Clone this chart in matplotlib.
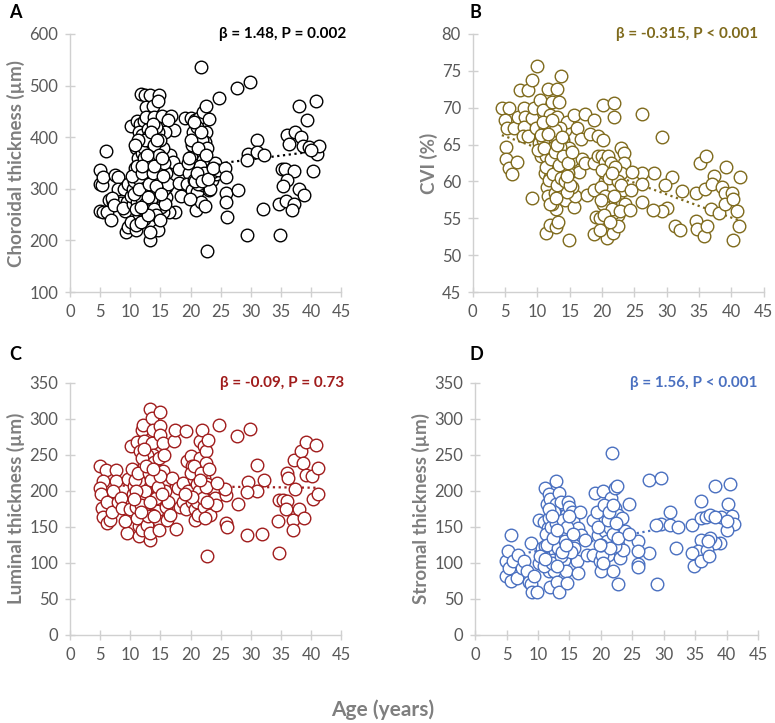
import numpy as np
import matplotlib.pyplot as plt

plt.rcParams['font.family'] = ['Lato', 'DejaVu Sans']

# ---- Panel A: choroidal thickness (um) vs age ----
age_a = [4.9, 5.0, 5.3, 5.5, 6.0, 5.0, 5.4, 6.2, 6.8, 6.5, 7.1, 7.5, 7.9, 8.0, 7.8, 8.4, 9.1, 9.4, 9.3, 9.7,
         6.9, 7.3, 8.8, 9.0, 9.6,
         10.2, 10.1, 10.5, 10.2, 10.9, 11.2, 11.6, 11.7, 12.4, 12.6, 12.3, 11.4, 11.6, 12.2, 12.2, 12.6, 10.4, 10.8,
         11.0, 11.3, 11.5, 11.8, 12.0, 12.5, 12.8, 10.6, 11.1, 11.9, 12.4, 12.7, 11.4, 12.0, 12.9, 10.9, 11.8, 12.3,
         12.6, 11.0, 12.1, 12.4,
         13.3, 13.8, 14.0, 14.8, 14.6, 15.3, 16.8, 17.3, 16.3, 15.8, 16.6, 17.1, 16.0, 15.9, 16.0, 17.5, 16.4, 15.5,
         14.6, 13.3, 13.2, 13.0, 13.5, 13.8, 14.2, 14.5, 14.9, 15.2, 13.2, 13.6, 14.0, 14.4, 14.8, 15.1, 13.4, 13.9,
         14.3, 15.0, 13.1, 14.6, 15.4, 15.0, 14.2, 13.7, 15.6, 15.6, 14.1, 13.0, 16.2, 15.8,
         18.1, 18.4, 18.1, 19.1, 20.0, 20.8, 21.4, 22.1, 22.5, 24.7, 23.0, 22.5, 22.4, 20.9, 21.6, 20.0, 20.5, 21.3,
         19.7, 19.4, 20.2, 21.1, 22.1, 20.9, 21.8, 22.4, 23.0, 23.6, 24.2, 23.5, 22.5, 22.0, 23.3, 20.4, 21.0, 21.9,
         20.6, 19.9, 21.5, 22.8, 24.0, 24.5, 20.3, 21.2, 21.8, 22.7,
         10.3, 10.7, 11.2, 11.5, 11.9, 12.2, 12.5, 12.9, 13.1, 13.4, 13.7, 14.0, 14.3, 14.7, 15.1, 15.4, 11.3, 11.7,
         12.8, 13.5, 14.5, 10.8, 12.0, 13.9, 15.2, 19.5, 20.1, 20.7, 21.3, 21.7, 22.2, 22.6, 20.5, 21.0, 21.9, 19.8,
         22.9, 23.8,
         25.7, 25.9, 25.9, 25.9, 26.0, 27.7, 29.8, 31.0, 29.6, 31.0, 32.2, 29.3, 27.9, 32.0, 29.3, 35.1, 35.6, 37.2,
         36.0, 36.3, 37.4, 38.4, 38.0, 39.3, 38.7, 39.7, 40.8, 40.3, 40.9, 41.3, 36.0, 35.3, 38.0, 38.9, 34.6, 35.9,
         37.2, 36.9, 34.9, 40.0]
choroidal = [337, 310, 307, 323, 373, 257, 255, 255, 239, 279, 274, 326, 323, 300, 272, 273, 258, 275, 217, 226,
             282, 268, 262, 300, 310,
             236, 421, 271, 287, 220, 431, 425, 484, 482, 458, 432, 252, 297, 298, 242, 258, 300, 340,
             380, 360, 410, 395, 370, 350, 330, 315, 275, 280, 270, 310, 320, 405, 415, 230, 235, 380,
             440, 260, 300, 302,
             481, 460, 439, 481, 471, 442, 441, 414, 433, 410, 365, 352, 330, 304, 284, 255, 255, 255,
             220, 201, 217, 400, 390, 370, 355, 345, 330, 315, 340, 320, 300, 290, 275, 265, 280, 260,
             250, 240, 365, 410, 380, 395, 420, 425, 350, 300, 320, 250, 310, 270,
             339, 287, 311, 437, 437, 433, 437, 449, 460, 476, 435, 410, 391, 381, 362, 362, 346, 330,
             330, 310, 297, 294, 307, 259, 275, 267, 297, 317, 329, 333, 342, 355, 299, 410, 420, 395,
             318, 280, 345, 380, 350, 336, 385, 310, 537, 179,
             325, 290, 345, 300, 330, 360, 395, 285, 310, 355, 330, 385, 305, 365, 290, 325, 395, 265,
             365, 410, 395, 385, 345, 345, 360, 350, 395, 315, 380, 410, 330, 365, 430, 330, 315, 360,
             320, 340,
             341, 323, 292, 274, 246, 495, 507, 394, 367, 371, 366, 355, 298, 261, 211, 339, 339, 335,
             404, 386, 411, 401, 460, 434, 383, 381, 471, 334, 367, 383, 317, 305, 300, 289, 270, 276,
             270, 259, 211, 375]

# ---- Panel B: CVI (%) vs age ----
age_b = [4.5, 5.6, 5.0, 5.3, 5.1, 5.1, 5.6, 6.0, 6.8, 6.4, 7.0, 7.3, 8.6, 9.1, 10.0, 8.0, 8.1, 7.9, 7.7, 9.1,
         9.4, 10.4, 9.1, 8.6, 9.8, 10.2, 10.6, 10.9, 11.2, 11.6, 12.2, 11.9, 13.1, 13.6, 13.3, 13.1, 11.6, 11.4,
         11.1, 11.5, 11.7, 11.4, 12.0, 12.8, 13.2, 12.9, 12.2, 12.7, 13.2, 13.7, 13.7, 14.0, 14.2, 14.5, 14.9,
         14.2, 15.6, 15.8, 15.4, 15.1, 15.4, 14.9, 15.6, 16.1, 16.7, 16.9, 16.5, 17.3, 17.4, 17.7, 18.2, 18.8,
         18.7, 18.8, 18.8, 19.4, 20.2, 20.2, 19.4, 19.0, 19.6, 20.0, 20.4, 20.9, 21.4, 20.4, 20.7, 20.9, 20.7,
         21.7, 21.9, 21.9, 22.0, 22.3, 22.5, 22.5, 22.4, 22.5, 23.0, 23.4, 23.4, 22.9, 23.3, 23.6, 21.0, 21.4,
         21.2, 21.7, 20.4, 19.9, 20.2, 19.6,
         12.5, 13.0, 13.5, 12.5, 12.8, 14.0, 14.5, 14.7, 11.9, 10.9, 10.1, 13.5, 12.7, 14.2,
         10.5, 11.0, 11.4, 11.8, 12.1, 12.4, 12.7, 13.0, 13.3, 13.6, 13.9, 14.3, 14.7, 15.0, 15.3, 10.8, 11.6,
         12.3, 13.1, 13.8, 14.6, 12.0, 12.9, 20.0, 20.5, 21.0, 21.5, 22.0, 22.5, 23.0, 20.3, 21.2, 21.8, 22.8,
         19.8, 21.5,
         26.1, 29.3, 30.8, 29.8, 30.0, 29.2, 27.8, 28.1, 31.2, 32.1, 32.3, 26.1, 26.1, 26.1, 24.6, 24.3, 24.4,
         34.5, 34.5, 34.6, 35.7, 36.2, 35.1, 36.0, 35.9, 37.3, 37.0, 36.9, 38.1, 38.5, 39.1, 39.0, 39.0, 40.1,
         40.3, 40.9, 41.1, 40.3, 41.4]
cvi = [69.9, 70.0, 68.4, 67.2, 64.7, 63.0, 61.8, 61.0, 62.6, 67.3, 68.7, 72.4, 72.4, 73.7, 75.7, 70.0, 68.7,
       67.4, 66.1, 68.6, 70.0, 71.0, 57.7, 66.1, 67.2, 65.2, 63.4, 69.7, 67.2, 72.6, 70.8, 69.0, 72.6, 74.3,
       70.8, 68.8, 65.2, 63.4, 61.1, 59.3, 58.0, 53.0, 54.1, 53.8, 54.5, 56.3, 57.0, 58.4, 60.2, 61.5, 63.8,
       65.6, 67.0, 68.1, 52.1, 57.5, 56.6, 58.0, 59.3, 61.3, 62.9, 64.5, 69.0, 67.2, 65.8, 63.1, 61.3, 69.2,
       62.5, 58.2, 66.5, 68.3, 62.5, 58.8, 52.9, 66.1, 65.6, 70.4, 63.4, 55.2, 55.0, 63.4, 62.7, 63.4, 62.5,
       60.0, 57.5, 56.1, 52.3, 53.0, 70.7, 68.8, 60.7, 59.3, 58.2, 57.0, 55.4, 53.9, 64.5, 63.8, 62.5, 61.1,
       58.8, 57.0, 58.4, 59.3, 57.0, 55.7, 61.1, 59.3, 57.0, 53.4,
       62.0, 63.4, 64.7, 64.7, 66.1, 59.8, 58.6, 61.1, 60.6, 65.6, 64.3, 67.2, 67.0, 62.9,
       66.3, 64.5, 62.0, 60.2, 63.0, 61.0, 64.0, 59.5, 62.3, 60.5, 63.5, 60.0, 62.5, 59.5, 64.0, 68.0, 66.5,
       68.3, 65.0, 66.0, 60.8, 57.0, 57.8, 61.5, 58.0, 60.5, 56.3, 62.0, 60.0, 59.5, 55.5, 54.5, 58.0, 56.0,
       57.5, 61.2,
       69.1, 66.0, 60.6, 59.5, 56.4, 56.0, 56.1, 61.1, 53.9, 53.4, 58.7, 61.1, 59.6, 57.2, 61.3, 56.1, 58.8,
       58.4, 54.7, 53.6, 52.6, 54.0, 62.5, 63.5, 59.0, 60.8, 59.6, 56.3, 55.7, 59.3, 62.0, 58.5, 57.0, 58.5,
       57.6, 56.0, 53.9, 52.0, 60.6]

# ---- Panel C: luminal thickness (um) vs age ----
age_c = [4.9, 6.0, 5.5, 5.0, 5.1, 5.3, 5.4, 6.2, 6.6, 6.2, 6.9, 7.6, 7.6, 7.2, 8.0, 8.4, 8.7, 9.4, 9.2, 9.7,
         10.0, 10.2, 10.5, 10.6, 11.1, 11.4, 11.5, 11.2, 11.0, 11.6, 11.9, 12.1, 12.2, 12.3, 12.6, 12.7, 12.5,
         12.8, 11.9, 12.7, 13.3, 13.2, 13.2, 13.6, 13.8, 13.6, 13.8, 14.1, 14.1, 14.3, 13.7, 13.9, 14.4, 14.7,
         14.8, 14.9, 14.9, 15.0, 15.5, 15.4, 15.7, 15.8, 16.0, 16.1, 16.6, 16.3, 17.0, 17.2, 17.4, 17.6, 18.0,
         18.3, 18.8, 19.4, 20.0, 19.3, 18.7, 19.3, 20.2, 20.5, 20.8, 20.2, 20.8, 20.8, 21.3, 21.1, 21.5, 21.6,
         21.9, 22.2, 22.6, 22.6, 22.9, 22.2, 22.7, 23.1, 23.4, 22.3, 23.3, 22.4, 23.8, 24.1, 24.3,
         13.0, 13.4, 14.4, 11.9, 11.5, 12.2, 13.6, 11.4, 12.7, 13.2,
         10.3, 10.8, 11.3, 11.7, 12.0, 12.4, 12.9, 13.1, 13.5, 13.9, 14.2, 14.6, 15.0, 15.3, 11.0, 11.8, 12.6,
         13.3, 14.0, 14.8, 10.6, 12.2, 13.7, 15.6, 19.6, 20.0, 20.6, 21.0, 21.4, 21.8, 22.1, 22.5, 23.0, 20.3,
         21.6, 22.8, 19.0,
         24.7, 27.7, 29.8, 31.0, 32.2, 29.6, 31.0, 29.3, 27.9, 31.9, 29.3, 22.7, 25.9, 25.9, 26.0, 25.7, 34.6,
         35.3, 36.0, 35.8, 34.5, 34.7, 36.0, 36.1, 37.2, 38.3, 38.6, 37.4, 37.0, 37.0, 38.0, 38.9, 39.1, 39.2,
         40.1, 40.8, 40.3, 41.1, 41.2, 24.4]
luminal = [234, 229, 213, 204, 196, 176, 163, 155, 160, 185, 171, 229, 214, 199, 185, 190, 176, 141, 158, 217,
           174, 262, 195, 206, 268, 137, 151, 162, 178, 255, 285, 291, 269, 236, 220, 204, 190,
           178, 146, 153, 132, 141, 313, 301, 285, 267, 250, 241, 227, 213, 195, 181, 172, 158,
           146, 310, 290, 278, 267, 227, 213, 199, 178, 160, 167, 185, 218, 269, 285, 147, 204,
           178, 211, 241, 248, 283, 185, 174, 234, 216, 199, 185, 174, 160, 167, 185, 246, 269,
           285, 262, 255, 239, 271, 218, 209, 195, 178, 178, 167, 162, 202, 190, 180,
           206, 199, 204, 204, 213, 172, 167, 190, 250, 236,
           230, 215, 225, 180, 245, 200, 165, 225, 215, 240, 190, 205, 220, 195, 200, 170, 235,
           185, 165, 245, 188, 258, 230, 250, 200, 225, 235, 210, 200, 225, 190, 205, 230, 192,
           215, 185, 195,
           292, 276, 286, 236, 215, 212, 199, 198, 182, 140, 139, 110, 194, 155, 149, 203, 187,
           187, 186, 175, 158, 114, 225, 218, 243, 255, 239, 202, 160, 145, 175, 162, 222, 268,
           220, 263, 189, 196, 232, 211]

# ---- Panel D: stromal thickness (um) vs age ----
age_d = [4.9, 5.2, 5.7, 4.9, 5.7, 5.4, 6.1, 6.6, 6.9, 7.4, 7.8, 8.2, 8.5, 8.9, 9.0, 9.8, 8.9, 9.3, 10.1, 10.2,
         10.6, 11.0, 11.2, 11.7, 11.4, 11.9, 11.6, 11.7, 11.8, 11.9, 11.7, 11.9, 11.2, 12.8, 12.9, 13.3, 13.4,
         13.7, 13.5, 12.8, 12.7, 12.4, 12.6, 13.0, 13.4, 13.8, 14.1, 14.4, 14.8, 14.6, 14.8, 14.2, 14.4, 14.6,
         15.0, 15.4, 15.5, 15.9, 15.8, 16.2, 16.4, 16.7, 16.3, 16.9, 17.5, 17.8, 18.8, 19.1, 18.7, 19.6, 19.9,
         20.0, 20.4, 20.7, 20.7, 21.0, 21.2, 21.9, 21.7, 22.2, 22.5, 22.3, 22.7, 23.3, 22.5, 22.8, 23.1, 23.6,
         23.9, 22.3, 21.5, 19.4, 20.2,
         10.4, 10.9, 11.3, 11.5, 12.0, 12.3, 12.6, 12.9, 13.2, 13.6, 14.0, 14.3, 14.7, 15.2, 15.6, 11.1, 11.8,
         12.4, 13.1, 13.9, 14.5, 12.2, 13.0, 15.0, 19.5, 20.1, 20.5, 21.1, 21.5, 22.0, 22.4, 22.8, 20.3, 21.3,
         22.0, 19.8,
         21.8, 27.6, 29.6, 24.5, 31.0, 29.6, 28.8, 31.0, 32.3, 31.9, 27.6, 29.0, 25.9, 25.9, 25.9, 25.9, 24.5,
         22.7, 34.5, 35.9, 36.7, 36.0, 37.4, 38.2, 39.1, 38.2, 40.6, 40.3, 40.9, 41.2, 40.1, 40.0, 39.0, 38.2,
         37.4, 35.9, 35.4, 34.5, 34.8, 35.9, 36.9, 37.2, 37.1]
stromal = [103, 117, 139, 81, 75, 93, 102, 79, 111, 93, 103, 88, 74, 70, 59, 59, 128, 81, 100, 160,
           121, 157, 204, 195, 181, 188, 148, 162, 137, 111, 88, 66, 123, 214, 181, 165, 197,
           185, 144, 132, 116, 104, 88, 74, 59, 130, 151, 167, 185, 144, 121, 104, 88, 72,
           178, 171, 158, 134, 121, 102, 86, 171, 148, 139, 132, 111, 111, 197, 160, 139, 102,
           88, 199, 162, 144, 130, 111, 88, 190, 204, 206, 176, 167, 162, 144, 125, 107, 118,
           144, 123, 148, 171, 111,
           110, 95, 140, 125, 150, 100, 170, 155, 120, 110, 160, 130, 150, 115, 140, 105, 175,
           135, 95, 115, 125, 165, 145, 165, 150, 125, 180, 160, 120, 140, 155, 135, 100, 170,
           180, 125,
           252, 215, 218, 182, 170, 154, 152, 152, 150, 121, 113, 71, 130, 116, 98, 94, 140,
           71, 152, 162, 163, 186, 167, 206, 163, 163, 209, 181, 165, 154, 145, 158, 127, 127,
           134, 131, 117, 113, 95, 102, 118, 109, 130]

# linear trend lines (intercept, slope) as shown on the chart
trends = [(312.6, 1.48), (67.7, -0.315), (207.9, -0.09), (101.0, 1.56)]

panels = [
    dict(x=age_a, y=choroidal, color='black', label='A', ylabel='Choroidal thickness (µm)',
         ylim=(100, 600), yticks=np.arange(100, 601, 100), note='β = 1.48, P = 0.002',
         pos=[0.0903, 0.596, 0.350, 0.357], note_x=1.02, lab=(0.012, 0.983)),
    dict(x=age_b, y=cvi, color='#7f6a1c', label='B', ylabel='CVI (%)',
         ylim=(45, 80), yticks=np.arange(45, 81, 5), note='β = -0.315, P < 0.001',
         pos=[0.610, 0.596, 0.3755, 0.357], note_x=0.98, lab=(0.606, 0.983)),
    dict(x=age_c, y=luminal, color='#a01c1c', label='C', ylabel='Luminal thickness (µm)',
         ylim=(0, 350), yticks=np.arange(0, 351, 50), note='β = -0.09, P = 0.73',
         pos=[0.0903, 0.122, 0.350, 0.3486], note_x=1.01, lab=(0.012, 0.510)),
    dict(x=age_d, y=stromal, color='#4a70c0', label='D', ylabel='Stromal thickness (µm)',
         ylim=(0, 350), yticks=np.arange(0, 351, 50), note='β = 1.56, P < 0.001',
         pos=[0.613, 0.122, 0.365, 0.3486], note_x=1.0, lab=(0.606, 0.510)),
]

fig = plt.figure(figsize=(7.75, 7.23), dpi=100)

for p, (b0, b1) in zip(panels, trends):
    ax = fig.add_axes(p['pos'])
    ax.scatter(p['x'], p['y'], s=82, facecolors='white', edgecolors=p['color'], linewidths=1.0, zorder=3)
    xs = np.linspace(min(p['x']), max(p['x']), 50)
    ax.plot(xs, b0 + b1 * xs, linestyle=(0, (1, 1.6)), color=p['color'], lw=1.6, zorder=2)

    ax.set_xlim(0, 45)
    ax.set_ylim(*p['ylim'])
    ax.set_xticks(np.arange(0, 46, 5))
    ax.set_yticks(p['yticks'])
    for s in ['top', 'right']:
        ax.spines[s].set_visible(False)
    for s in ['left', 'bottom']:
        ax.spines[s].set_color('#d0d0d0')
        ax.spines[s].set_linewidth(1.0)
    ax.tick_params(direction='inout', length=7, width=1.0, color='#d0d0d0',
                   labelsize=12, labelcolor='#595959', pad=5)
    ax.set_ylabel(p['ylabel'], fontsize=13.5, fontweight='bold', color='#7f7f7f', labelpad=3)
    ax.text(p['note_x'], 1.0, p['note'], transform=ax.transAxes, ha='right', va='center',
            fontsize=11, fontweight='bold', color=p['color'])
    fig.text(p['lab'][0], p['lab'][1], p['label'], fontsize=13, fontweight='bold', va='center')

fig.text(0.494, 0.018, 'Age (years)', ha='center', va='center', fontsize=15,
         fontweight='bold', color='#7f7f7f')

fig.savefig('out.png', dpi=100)
